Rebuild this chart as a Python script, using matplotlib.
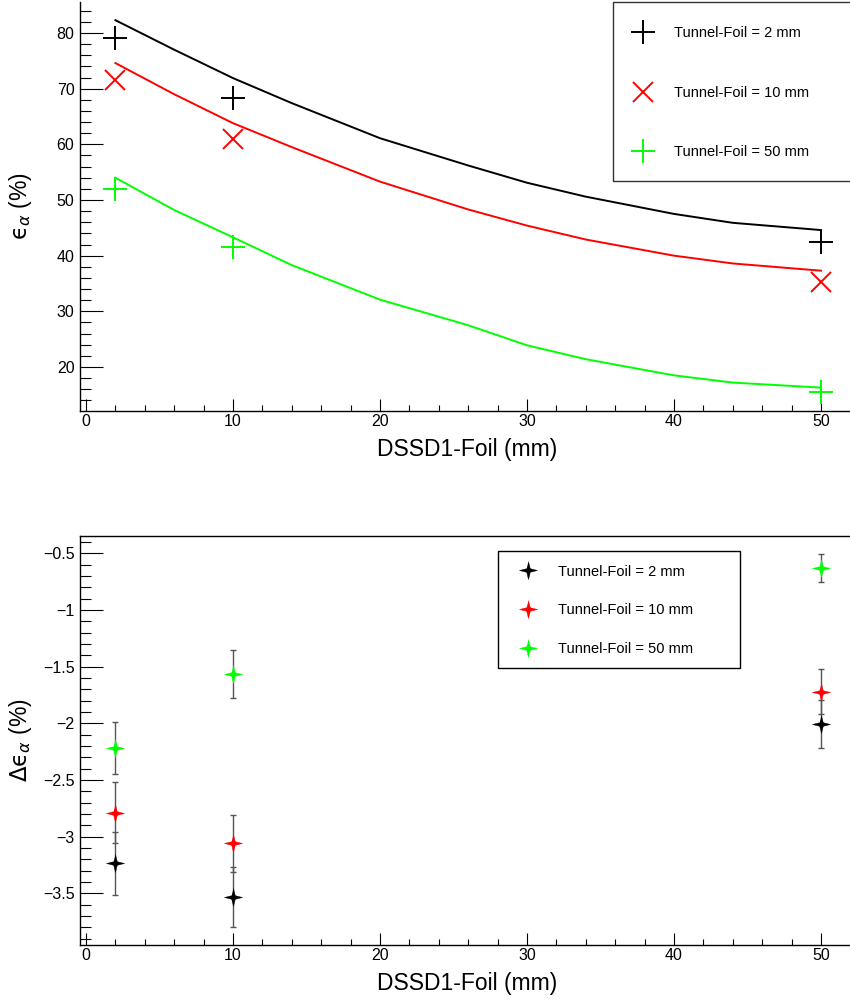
import matplotlib
matplotlib.use('Agg')
import matplotlib.pyplot as plt
from matplotlib.patches import Rectangle
from matplotlib.ticker import MultipleLocator, FuncFormatter

plt.rcParams['font.family'] = ['Liberation Sans', 'DejaVu Sans']
plt.rcParams['mathtext.fontset'] = 'dejavusans'

# measured points (top panel)
dist = [2, 10, 50]
eff_2mm = [79.05, 68.4, 42.5]
eff_10mm = [71.6, 60.9, 35.3]
eff_50mm = [52.0, 41.6, 15.5]

# simulated curves (top panel)
sim_dist = [2, 6, 10, 14, 20, 26, 30, 34, 40, 44, 50]
sim_2mm = [82.3, 77.0, 71.9, 67.4, 61.1, 56.2, 53.1, 50.6, 47.5, 45.9, 44.6]
sim_10mm = [74.6, 69.0, 63.8, 59.5, 53.3, 48.3, 45.4, 42.9, 40.0, 38.6, 37.3]
sim_50mm = [54.0, 48.2, 43.3, 38.3, 32.1, 27.5, 23.9, 21.4, 18.5, 17.2, 16.3]

# differences (bottom panel)
diff_2mm = [-3.235, -3.535, -2.006]
diff_2mm_err = [0.28, 0.265, 0.21]
diff_10mm = [-2.79, -3.06, -1.72]
diff_10mm_err = [0.27, 0.25, 0.20]
diff_50mm = [-2.22, -1.565, -0.632]
diff_50mm_err = [0.23, 0.21, 0.125]

labels = ['Tunnel-Foil = 2 mm', 'Tunnel-Foil = 10 mm', 'Tunnel-Foil = 50 mm']
colors = ['black', '#ff0000', '#00ff00']

W, H = 850, 1000
fig = plt.figure(figsize=(W / 100, H / 100), dpi=100)
ax1 = fig.add_axes([80 / W, 1 - 411 / H, 770 / W, 409 / H])
ax2 = fig.add_axes([80 / W, 1 - 945 / H, 770 / W, 409.3 / H])

px_per_mm = 14.7
xlim = (-6 / px_per_mm, 764 / px_per_mm)


def style_axes(ax, ymajor, yminor, top_spine):
    ax.set_xlim(*xlim)
    ax.spines['right'].set_visible(False)
    ax.spines['top'].set_visible(top_spine)
    for s in ax.spines.values():
        s.set_linewidth(1.0)
    ax.xaxis.set_major_locator(MultipleLocator(10))
    ax.xaxis.set_minor_locator(MultipleLocator(2))
    ax.yaxis.set_major_locator(MultipleLocator(ymajor))
    ax.yaxis.set_minor_locator(MultipleLocator(yminor))
    ax.tick_params(axis='x', which='major', direction='in', length=8.6, width=0.8,
                   labelsize=11.5, pad=2, top=False)
    ax.tick_params(axis='x', which='minor', direction='in', length=4.3, width=0.8, top=False)
    ax.tick_params(axis='y', which='major', direction='in', length=16.6, width=0.8,
                   labelsize=11.5, pad=4, right=False)
    ax.tick_params(axis='y', which='minor', direction='in', length=8.0, width=0.8, right=False)
    ax.set_xlabel('DSSD1-Foil (mm)', fontsize=16.5, va='top')
    ax.xaxis.set_label_coords((467 - 80) / 770, -27 / 409)


# top panel
style_axes(ax1, 10, 2, False)
ax1.set_ylim(20 - 44 / 5.567, 80 + 31 / 5.567)
for sim, c in zip([sim_2mm, sim_10mm, sim_50mm], colors):
    ax1.plot(sim_dist, sim, color=c, lw=1.4, zorder=2)
h1 = []
for eff, c, m, ms, lab in zip([eff_2mm, eff_10mm, eff_50mm], colors, ['+', 'x', '+'],
                              [16.6, 13.7, 16.6], labels):
    h, = ax1.plot(dist, eff, ls='none', marker=m, ms=ms, mew=1.4, color=c,
                  label=lab, zorder=3, clip_on=False)
    h1.append(h)
ax1.set_ylabel('$\\mathrm{\u03f5}_{\\alpha}$ (%)', fontsize=16.5)
ax1.yaxis.set_label_coords((34 - 80) / 770, 0.5)

fig.patches.append(Rectangle((613 / W, 1 - 181 / H), 300 / W, 179 / H, transform=fig.transFigure,
                             fill=False, edgecolor='#333333', lw=1.0, zorder=5))
fig.legend(handles=h1, loc='upper left', bbox_to_anchor=(628.6 / W, 1 - 26.0 / H),
           bbox_transform=fig.transFigure, frameon=False, fontsize=10.5, borderpad=0,
           borderaxespad=0, handlelength=2.0, handletextpad=1.1, labelspacing=3.13)

# bottom panel
style_axes(ax2, 0.5, 0.1, True)
ax2.set_ylim(-3.5 - 51.7 / 113.3, -0.5 + 17.6 / 113.3)
ax2.yaxis.set_major_formatter(FuncFormatter(lambda v, p: ('%g' % v).replace('-', '\u2212')))
star = [(0, 1), (0.2, 0.2), (1, 0), (0.2, -0.2), (0, -1), (-0.2, -0.2), (-1, 0), (-0.2, 0.2)]
h2 = []
for d, e, c, lab in zip([diff_2mm, diff_10mm, diff_50mm],
                        [diff_2mm_err, diff_10mm_err, diff_50mm_err], colors, labels):
    ax2.errorbar(dist, d, yerr=e, fmt='none', ecolor='#555555', elinewidth=1.0,
                 capsize=2.2, capthick=1.0, zorder=2)
    h, = ax2.plot(dist, d, ls='none', marker=star, ms=13, color=c, mew=0.3,
                  label=lab, zorder=3, clip_on=False)
    h2.append(h)
ax2.set_ylabel('$\\Delta\\mathrm{\u03f5}_{\\alpha}$ (%)', fontsize=16.5)
ax2.yaxis.set_label_coords((34 - 80) / 770, 0.5)

fig.patches.append(Rectangle((498 / W, 1 - 668 / H), 242 / W, 117 / H, transform=fig.transFigure,
                             fill=False, edgecolor='black', lw=1.0, zorder=5))
fig.legend(handles=h2, loc='upper left', bbox_to_anchor=(513.4 / W, 1 - 564.5 / H),
           bbox_transform=fig.transFigure, frameon=False, fontsize=10.5, borderpad=0,
           borderaxespad=0, handlelength=2.0, handletextpad=1.05, labelspacing=1.69)

fig.savefig('out.png', dpi=100, facecolor='white')
